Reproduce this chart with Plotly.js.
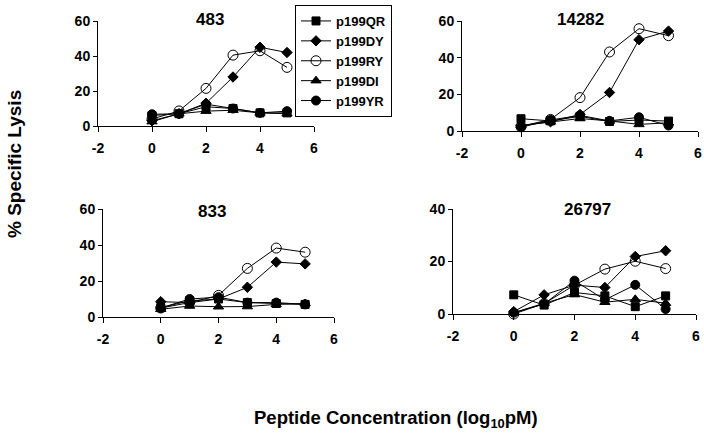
<!DOCTYPE html>
<html>
<head>
<meta charset="utf-8">
<script src="https://cdn.plot.ly/plotly-3.0.1.min.js"></script>
<style>html,body{margin:0;padding:0;background:#fff;}#chart{width:704px;height:437px;}</style>
</head>
<body>
<div id="chart"></div>
<script>
// Peptide concentration (log10 pM)
const xLog = [0, 1, 2, 3, 4, 5];
const seriesNames = ['p199QR', 'p199DY', 'p199RY', 'p199DI', 'p199YR'];
const panelTitles = ['483', '14282', '833', '26797'];
const xTickVals = [-2, 0, 2, 4, 6];
const xTickText = ['-2', '0', '2', '4', '6'];

// Panel 483
const v483_QR = [6, 7, 11, 10, 7.5, 7.5];
const v483_DY = [3, 7, 13, 28, 45, 42];
const v483_RY = [4, 8.6, 21.5, 40.5, 43, 33.5];
const v483_DI = [2.5, 7, 8.5, 9, 7.5, 7];
const v483_YR = [6.7, 7, 12.5, 10, 7.5, 8.5];

// Panel 14282
const v14282_QR = [6.7, 5.5, 8, 5.2, 6, 5.4];
const v14282_DY = [3, 5, 9, 21, 49.8, 54.5];
const v14282_RY = [2.5, 6.3, 18.2, 43.1, 55.8, 52];
const v14282_DI = [3, 5, 6.8, 5.5, 3.6, 4.5];
const v14282_YR = [2, 6, 8.5, 5.5, 7.5, 3];

// Panel 833
const v833_QR = [5.2, 9, 10, 8, 7.5, 7];
const v833_DY = [8.5, 8, 10, 16.5, 30.5, 29.5];
const v833_RY = [5, 8, 12, 27, 38.3, 36];
const v833_DI = [4.3, 6.1, 5.7, 5.8, 7, 7.5];
const v833_YR = [5, 10, 11, 8, 8, 7];

// Panel 26797
const v26797_QR = [7.3, 3.4, 8.2, 6.9, 2.8, 6.9];
const v26797_DY = [0.9, 7.3, 11, 10.1, 21.9, 24.1];
const v26797_RY = [0, 4, 11, 17.1, 20.1, 17.3];
const v26797_DI = [0.5, 4.1, 7.4, 4.5, 5.6, 4.1];
const v26797_YR = [0.5, 3.8, 12.7, 5.4, 11.1, 1.9];

const panels = [
  [v483_QR, v483_DY, v483_RY, v483_DI, v483_YR],
  [v14282_QR, v14282_DY, v14282_RY, v14282_DI, v14282_YR],
  [v833_QR, v833_DY, v833_RY, v833_DI, v833_YR],
  [v26797_QR, v26797_DY, v26797_RY, v26797_DI, v26797_YR]
];
const yMax = [60, 60, 60, 40];

const symbols = ['square', 'diamond', 'circle-open', 'triangle-up', 'circle'];
const sizes = [8, 8, 10, 9, 9];

const FONT = 'Liberation Sans, Arial, sans-serif';
const traces = [];
panels.forEach((vals, p) => {
  const ax = p === 0 ? '' : String(p + 1);
  vals.forEach((ys, s) => {
    traces.push({
      type: 'scatter', mode: 'lines+markers',
      x: xLog, y: ys, name: seriesNames[s],
      xaxis: 'x' + ax, yaxis: 'y' + ax,
      showlegend: p === 0, legendgroup: seriesNames[s],
      cliponaxis: false,
      line: {color: '#000', width: 1},
      marker: {symbol: symbols[s], size: sizes[s], color: '#000', line: {color: '#000', width: 1}}
    });
  });
});

const W = 704, H = 437;
const boxes = [
  [98, 314, 21, 126],
  [462, 698, 21, 131],
  [103, 334, 209, 317],
  [453, 696, 209, 314]
];
const tickFont = {family: FONT, size: 14, color: '#000', weight: 'bold'};
const layout = {
  width: W, height: H,
  margin: {l: 0, r: 0, t: 0, b: 0},
  paper_bgcolor: '#fff', plot_bgcolor: 'rgba(0,0,0,0)',
  showlegend: true,
  legend: {
    x: 392 / W, xanchor: 'right', y: 1 - 5 / H, yanchor: 'top',
    bordercolor: '#000', borderwidth: 1, bgcolor: '#fff',
    font: {family: FONT, size: 13, color: '#000', weight: 'bold'},
    itemwidth: 30, tracegroupgap: 0
  },
  annotations: []
};
boxes.forEach((b, i) => {
  const ax = i === 0 ? '' : String(i + 1);
  layout['xaxis' + ax] = {
    domain: [b[0] / W, b[1] / W], range: [-2, 6],
    tickmode: 'array', tickvals: xTickVals, ticktext: xTickText,
    anchor: 'y' + ax, showline: true, linecolor: '#000', linewidth: 1,
    ticks: 'outside', ticklen: 5, tickcolor: '#000', showgrid: false, zeroline: false,
    tickfont: tickFont, ticklabelstandoff: 4, fixedrange: true
  };
  layout['yaxis' + ax] = {
    domain: [1 - b[3] / H, 1 - b[2] / H], range: [0, yMax[i]], dtick: 20,
    anchor: 'x' + ax, showline: true, linecolor: '#000', linewidth: 1,
    ticks: 'outside', ticklen: 4, tickcolor: '#000', showgrid: false, zeroline: false,
    tickfont: tickFont, fixedrange: true
  };
});
const titlePos = [[210, 20], [580, 20], [212, 211], [587, 209]];
panelTitles.forEach((t, i) => {
  layout.annotations.push({
    text: t, xref: 'paper', yref: 'paper',
    x: titlePos[i][0] / W, y: 1 - titlePos[i][1] / H,
    xanchor: 'center', yanchor: 'middle', showarrow: false,
    font: {family: FONT, size: 17, color: '#000', weight: 'bold'}
  });
});
layout.annotations.push({
  text: '% Specific Lysis', xref: 'paper', yref: 'paper',
  x: 14 / W, y: 1 - 164 / H, textangle: -90,
  xanchor: 'center', yanchor: 'middle', showarrow: false,
  font: {family: FONT, size: 19, color: '#000', weight: 'bold'}
});
layout.annotations.push({
  text: 'Peptide Concentration (log<sub>10</sub>pM)', xref: 'paper', yref: 'paper',
  x: 396 / W, y: 1 - 419 / H,
  xanchor: 'center', yanchor: 'middle', showarrow: false,
  font: {family: FONT, size: 18.5, color: '#000', weight: 'bold'}
});

Plotly.newPlot('chart', traces, layout, {staticPlot: true, displayModeBar: false});
</script>
</body>
</html>
